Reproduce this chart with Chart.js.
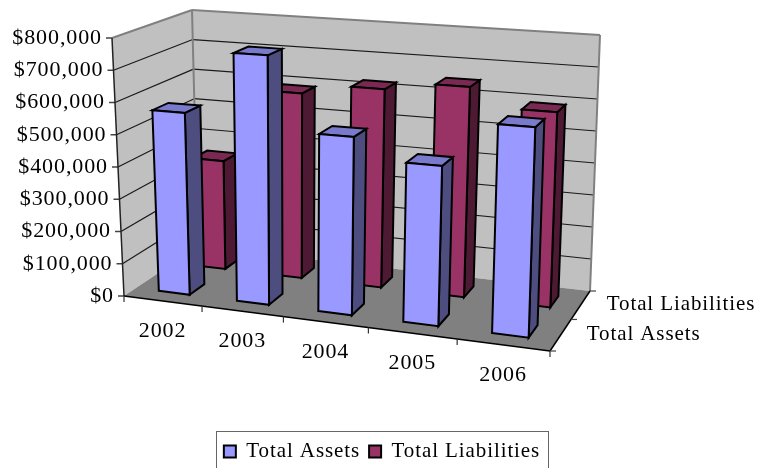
<!DOCTYPE html>
<html><head><meta charset="utf-8">
<style>html,body{margin:0;padding:0;background:#fff}canvas{display:block}</style>
<script src="https://cdn.jsdelivr.net/npm/chart.js@4"></script>
</head><body><canvas id="c" width="771" height="468"></canvas>
<script>
const categories = ['2002','2003','2004','2005','2006'];
const totalAssets = [565000,762000,535000,472000,608000];
const totalLiabilities = [350000,590000,623000,650000,593000];
const yTicks = {min:0,max:800000,step:100000};

// 3D box corners [front-left, front-right, back-right, back-left]
const FLOOR = [[124,296],[550,351],[590,291],[198,246.5]];
const TOP   = [[112,38],[559,68],[600,35],[192,10]];
const ROWS = [[.15,.35],[.65,.85]];
const FONT = '"Liberation Serif","Times New Roman",serif';
const FS = 21, FS_NUM = 22;
const SPACING = '0.9px';

function homography(q){
  const [[x0,y0],[x1,y1],[x2,y2],[x3,y3]] = q;
  const sx=x0-x1+x2-x3, sy=y0-y1+y2-y3;
  const dx1=x1-x2, dx2=x3-x2, dy1=y1-y2, dy2=y3-y2;
  const den=dx1*dy2-dx2*dy1;
  const g=(sx*dy2-dx2*sy)/den, h=(dx1*sy-sx*dy1)/den;
  const a=x1-x0+g*x1, b=x3-x0+h*x3, d=y1-y0+g*y1, e=y3-y0+h*y3;
  return (u,w)=>{const t=g*u+h*w+1;return [(a*u+b*w+x0)/t,(d*u+e*w+y0)/t];};
}
const hF=homography(FLOOR), hT=homography(TOP);
function P(u,v,w){const f=hF(u,w),t=hT(u,w);return [f[0]+(t[0]-f[0])*v,f[1]+(t[1]-f[1])*v];}
function poly(ctx,pts,fill,stroke,lw){
  ctx.beginPath();pts.forEach((p,i)=>i?ctx.lineTo(p[0],p[1]):ctx.moveTo(p[0],p[1]));ctx.closePath();
  if(fill){ctx.fillStyle=fill;ctx.fill();}
  if(stroke){ctx.strokeStyle=stroke;ctx.lineWidth=lw;ctx.lineJoin='miter';ctx.stroke();}
}
function seg(ctx,a,b,color,lw){ctx.beginPath();ctx.moveTo(a[0],a[1]);ctx.lineTo(b[0],b[1]);ctx.strokeStyle=color;ctx.lineWidth=lw;ctx.stroke();}

// every bar goes through the library's element: its x, width, y and base come from the scales
Chart.BarElement.prototype.draw = function(ctx){
  const area=this.chart3d.chartArea, o=this.options, ds=this.ds3d;
  const u0=(this.x-this.width/2-area.left)/area.width, u1=(this.x+this.width/2-area.left)/area.width;
  const v0=(area.bottom-this.base)/area.height, v1=(area.bottom-this.y)/area.height;
  const [w0,w1]=ROWS[this.row3d];
  ctx.save();
  poly(ctx,[P(u1,v0,w0),P(u1,v0,w1),P(u1,v1,w1),P(u1,v1,w0)],ds.sideColor,'#000',2);
  poly(ctx,[P(u0,v1,w0),P(u1,v1,w0),P(u1,v1,w1),P(u0,v1,w1)],ds.topColor,'#000',2);
  poly(ctx,[P(u0,v0,w0),P(u1,v0,w0),P(u1,v1,w0),P(u0,v1,w0)],o.backgroundColor,'#000',2);
  ctx.restore();
};

const walls3D = {
  id:'walls3D',
  beforeUpdate(chart){chart.ctx.letterSpacing=SPACING;},
  afterDatasetUpdate(chart,args){
    args.meta.data.forEach(e=>{e.chart3d=chart;e.row3d=args.index;e.ds3d=chart.data.datasets[args.index];});
  },
  beforeDatasetsDraw(chart){
    const ctx=chart.ctx, ys=chart.scales.y, xs=chart.scales.x, a=chart.chartArea;
    ctx.save();
    ctx.letterSpacing=SPACING;
    poly(ctx,[P(0,0,0),P(0,1,0),P(0,1,1),P(0,0,1)],'#C0C0C0');
    poly(ctx,[P(0,0,1),P(0,1,1),P(1,1,1),P(1,0,1)],'#C0C0C0');
    poly(ctx,[P(0,0,0),P(1,0,0),P(1,0,1),P(0,0,1)],'#808080');
    ctx.font=FS_NUM+'px '+FONT; ctx.fillStyle='#000'; ctx.textBaseline='middle';
    ys.ticks.forEach((t,i)=>{
      const v=(a.bottom-ys.getPixelForValue(t.value))/a.height;
      if(i>0 && i<ys.ticks.length-1){
        seg(ctx,P(0,v,0),P(0,v,1),'#1a1a1a',1.2);
        seg(ctx,P(0,v,1),P(1,v,1),'#1a1a1a',1.2);
      }
      const p=P(0,v,0);
      seg(ctx,[p[0]-6,p[1]],p,'#444',1.5);
      ctx.textAlign='right';ctx.fillStyle='#000';
      ctx.fillText(t.label,p[0]-10,p[1]);
    });
    // edges
    seg(ctx,P(0,1,0),P(0,1,1),'#808080',2);
    seg(ctx,P(0,1,1),P(1,1,1),'#808080',2);
    seg(ctx,P(1,1,1),P(1,0,1),'#808080',2);
    seg(ctx,P(0,1,1),P(0,0,1),'#808080',2);
    seg(ctx,P(0,1,0),P(0,0,0),'#222',1.5);
    seg(ctx,P(0,0,0),P(1,0,0),'#000',1.5);
    seg(ctx,P(1,0,0),P(1,0,1),'#000',1.5);
    // category ticks and labels
    xs.getLabels().forEach((lab,i)=>{
      const c=(xs.getPixelForValue(i)-a.left)/a.width;
      const p=P(c,0,0);
      ctx.textAlign='center';ctx.fillStyle='#000';
      ctx.fillText(lab,p[0],p[1]+30);
    });
    for(let i=0;i<=categories.length;i++){
      const p=P(i/categories.length,0,0);
      seg(ctx,p,[p[0],p[1]+6],'#333',1.2);
    }
    // depth ticks and series labels
    ctx.font=FS+'px '+FONT;
    for(let i=0;i<=chart.data.datasets.length;i++){
      const p=P(1,0,i/chart.data.datasets.length);
      seg(ctx,p,[p[0]+6,p[1]],'#444',1.2);
    }
    chart.data.datasets.forEach((ds,i)=>{
      const p=P(1,0,(ROWS[i][0]+ROWS[i][1])/2);
      ctx.textAlign='left';ctx.fillStyle='#000';
      ctx.fillText(ds.label,p[0]+26,p[1]);
    });
    ctx.restore();
  },
  afterDraw(chart){
    const h=chart.legend.legendHitBoxes, ctx=chart.ctx;
    const l=h[0].left-8, r=h[h.length-1].left+h[h.length-1].width+8;
    ctx.save();ctx.strokeStyle='#666';ctx.lineWidth=1;
    ctx.strokeRect(Math.round(l)+.5,431.5,Math.round(r-l),45);
    ctx.restore();
  }
};

new Chart(document.getElementById('c'),{
  type:'bar',
  plugins:[walls3D],
  data:{labels:categories,datasets:[
    {label:'Total Assets',data:totalAssets,backgroundColor:'#9999FF',topColor:'#7A7ACC',sideColor:'#4D4D80',borderColor:'#000',borderWidth:2,clip:false},
    {label:'Total Liabilities',data:totalLiabilities,backgroundColor:'#993366',topColor:'#7A2952',sideColor:'#4D1933',borderColor:'#000',borderWidth:2,clip:false}
  ]},
  options:{
    responsive:false,animation:false,
    layout:{padding:{top:0,left:0,right:7,bottom:-4}},
    datasets:{bar:{grouped:false,categoryPercentage:1,barPercentage:.4}},
    scales:{
      x:{display:false,type:'category'},
      y:{display:false,min:yTicks.min,max:yTicks.max,ticks:{stepSize:yTicks.step,callback:v=>'$'+v.toLocaleString('en-US')}}
    },
    plugins:{
      tooltip:{enabled:false},
      legend:{position:'bottom',labels:{color:'#000',font:{family:FONT,size:FS},boxWidth:12,boxHeight:12,padding:9}}
    }
  }
});
</script></body></html>
